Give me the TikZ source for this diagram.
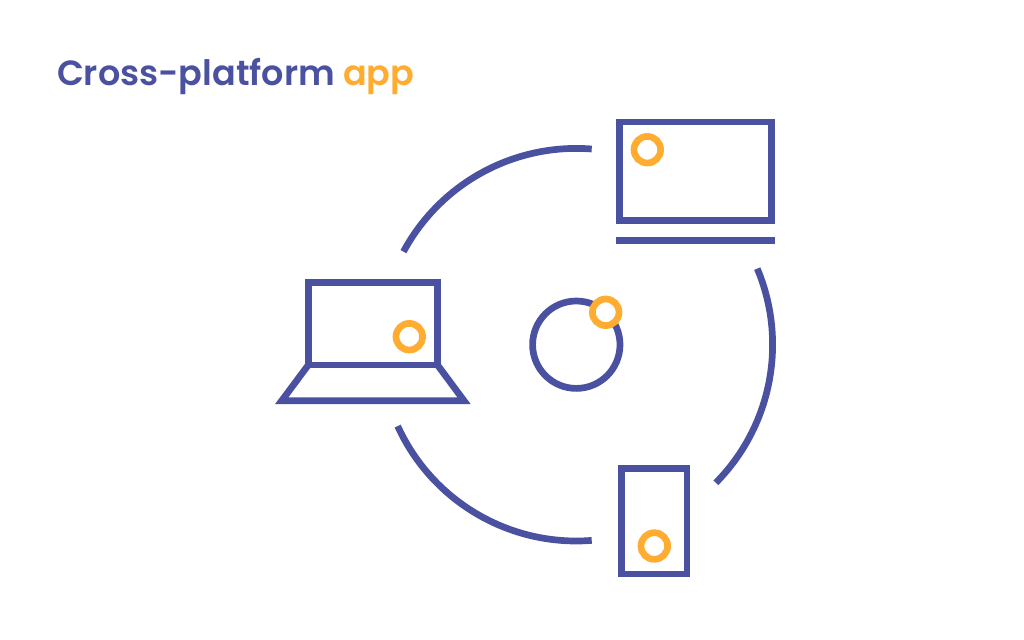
\documentclass[tikz,border=0pt]{standalone}
\usepackage{fontspec}
\setmainfont{Poppins}[BoldFont={Poppins SemiBold}]
\usepackage{tikz}
\usetikzlibrary{calc}
\definecolor{appblue}{HTML}{4B51A1}
\definecolor{apporange}{HTML}{FFAC30}
\tikzstyle{device} = [rectangle, draw=appblue, line width=6.7pt, inner sep=0pt, outer sep=0pt]
\tikzstyle{dot} = [circle, draw=apporange, fill=white, line width=6.7pt, minimum size=26.6pt, inner sep=0pt, outer sep=0pt]
\tikzstyle{ring} = [draw=appblue, line width=6.7pt]

\begin{document}
\begin{tikzpicture}[x=1pt, y=-1pt]
      \fill [white] (0,0) rectangle (1024,639);
      \useasboundingbox (0,0) rectangle (1024,639);

      \node [anchor=base west, inner sep=0pt, font=\fontsize{35}{42}\selectfont\bfseries] (title) at (56.8,85.5)
        {\textcolor{appblue}{Cross-platform} \textcolor{apporange}{app}};

      \node [device, minimum width=152pt, minimum height=98.5pt] (monitor) at (695.5,171.25) {};
      \node [rectangle, fill=appblue, minimum width=159pt, minimum height=6.5pt, inner sep=0pt] (stand) at (695.5,240.25) {};
      \node [device, minimum width=129.2pt, minimum height=82.7pt] (screen) at (372.9,323.65) {};
      \node [device, minimum width=65.7pt, minimum height=105.4pt] (phone) at (654.15,521.3) {};
      \node [circle, draw=appblue, line width=6.7pt, minimum size=87.4pt, inner sep=0pt] (hub) at (576.3,344.7) {};

      \node [dot] (monitor_dot) at (647.3,149.7) {};
      \node [dot] (screen_dot) at (409.3,336.7) {};
      \node [dot] (phone_dot) at (654.3,546) {};
      \node [dot] (hub_dot) at (605.7,312.3) {};

      \coordinate (keys_l) at (281.7,400.7);
      \coordinate (keys_r) at (464,400.7);
      \coordinate (top_start) at ($(hub)+(85.5:196.3pt)$);
      \coordinate (right_start) at ($(hub)+(22.8:196.3pt)$);
      \coordinate (low_start) at ($(hub)+(204.5:196.3pt)$);

      \path [draw=appblue, line width=6.7pt, miter limit=10] (screen.south west) -- (keys_l) -- (keys_r) -- (screen.south east);

      \path [ring] (top_start) arc [start angle=85.5, end angle=151.7, radius=196.3pt];
      \path [ring] (right_start) arc [start angle=22.8, end angle=-44.7, radius=196.3pt];
      \path [ring] (low_start) arc [start angle=204.5, end angle=274.5, radius=196.3pt];
    \end{tikzpicture}
\end{document}
